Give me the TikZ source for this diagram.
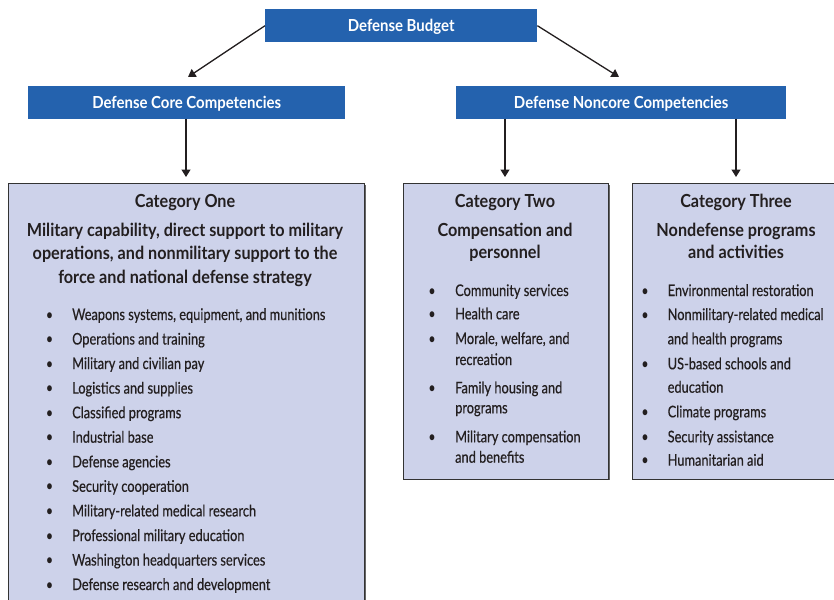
\documentclass[tikz,border=0pt]{standalone}
\usepackage{fontspec}
\setmainfont{Lato}[FakeStretch=0.80, BoldFeatures={FakeStretch=0.90}]
\newfontfamily\listfont{Lato}[FakeStretch=0.80, FakeBold=0.5]
\usetikzlibrary{arrows.meta,shadows}

\definecolor{hdrblue}{HTML}{2462AE}
\definecolor{catfill}{HTML}{CDD2EA}
\definecolor{ink}{HTML}{231F20}
\definecolor{edge}{HTML}{333333}

\begin{document}
\begin{tikzpicture}[x=1pt,y=-1pt,
  hdrbox/.style={fill=hdrblue, text=white, inner sep=0pt, anchor=north west,
    font=\bfseries\fontsize{16.6}{20}\selectfont, text height=12pt, text depth=0pt},
  catbox/.style={fill=catfill, draw=edge, line width=1pt, inner sep=0pt, anchor=north west,
    drop shadow={shadow xshift=1.2pt, shadow yshift=-1.2pt, opacity=1, fill=black!60}},
  headline/.style={text=ink, inner sep=0pt, anchor=base,
    font=\bfseries\fontsize{18}{21}\selectfont},
  itemline/.style={text=ink, inner sep=0pt, anchor=base west,
    font=\listfont\fontsize{16}{19}\selectfont},
  dot/.style={text=ink, inner sep=0pt, anchor=base,
    font=\fontsize{16}{19}\selectfont},
  link/.style={draw=ink, line width=1.3pt, -{Triangle[length=7.5pt,width=9pt]}}
]
\useasboundingbox (0,0) rectangle (834,599);
\clip (0,0) rectangle (834,599);

% top level and the two competency headers
\node[hdrbox, minimum width=272pt, minimum height=33pt] (budget) at (265,9) {Defense Budget};
\node[hdrbox, minimum width=317pt, minimum height=32.5pt] (core) at (28,86) {Defense Core Competencies};
\node[hdrbox, minimum width=330pt, minimum height=32.5pt] (noncore) at (456,86) {Defense Noncore Competencies};

% category panels
\node[catbox, minimum width=356pt, minimum height=440pt] (one) at (8,183) {};
\node[catbox, minimum width=205.5pt, minimum height=295.5pt] (two) at (402.5,183) {};
\node[catbox, minimum width=208pt, minimum height=295.5pt] (three) at (632,183) {};

% arrow end points just above the boxes
\coordinate (tipcore) at (188,77);
\coordinate (tipnon) at (619,77);
\coordinate (tipone) at (186,177);
\coordinate (tiptwo) at (505,177);
\coordinate (tipthree) at (736,177);

\draw[link] (budget.west) -- (tipcore);
\draw[link] (budget.east) -- (tipnon);
\draw[link] (core.south -| tipone) -- (tipone);
\draw[link] (noncore.south -| tiptwo) -- (tiptwo);
\draw[link] (noncore.south -| tipthree) -- (tipthree);

% Category One
\foreach \y/\t [count=\i] in {
  207/{Category One},
  236/{Military capability, direct support to military},
  259.5/{operations, and nonmilitary support to the},
  283/{force and national defense strategy}}
  \node[headline] (one-h\i) at (185,\y) {\t};

\foreach \y/\t [count=\i] in {
  320/{Weapons systems, equipment, and munitions},
  344.5/{Operations and training},
  369/{Military and civilian pay},
  393.6/{Logistics and supplies},
  418.2/{Classified programs},
  442.7/{Industrial base},
  467.3/{Defense agencies},
  491.8/{Security cooperation},
  516.4/{Military-related medical research},
  541/{Professional military education},
  565.5/{Washington headquarters services},
  590/{Defense research and development}}
{
  \node[dot] (one-b\i) at (49.5,\y) {\textbullet};
  \node[itemline] (one-i\i) at (72,\y) {\t};
}

% Category Two
\foreach \y/\t [count=\i] in {
  207/{Category Two},
  236/{Compensation and},
  258.5/{personnel}}
  \node[headline] (two-h\i) at (505,\y) {\t};

\foreach \y [count=\i] in {296,319.3,344,393.3,442.3}
  \node[dot] (two-b\i) at (432,\y) {\textbullet};

\foreach \y/\t [count=\i] in {
  296/{Community services},
  319.3/{Health care},
  344/{Morale, welfare, and},
  365/{recreation},
  393.3/{Family housing and},
  413.3/{programs},
  442.3/{Military compensation},
  462.7/{and benefits}}
  \node[itemline] (two-i\i) at (455,\y) {\t};

% Category Three
\foreach \y/\t [count=\i] in {
  207/{Category Three},
  236/{Nondefense programs},
  258.5/{and activities}}
  \node[headline] (three-h\i) at (736,\y) {\t};

\foreach \y [count=\i] in {296,320,369.3,417.3,442.3,465.7}
  \node[dot] (three-b\i) at (645,\y) {\textbullet};

\foreach \y/\t [count=\i] in {
  296/{Environmental restoration},
  320/{Nonmilitary-related medical},
  344.3/{and health programs},
  369.3/{US-based schools and},
  392.7/{education},
  417.3/{Climate programs},
  442.3/{Security assistance},
  465.7/{Humanitarian aid}}
  \node[itemline] (three-i\i) at (667.5,\y) {\t};

\end{tikzpicture}
\end{document}
